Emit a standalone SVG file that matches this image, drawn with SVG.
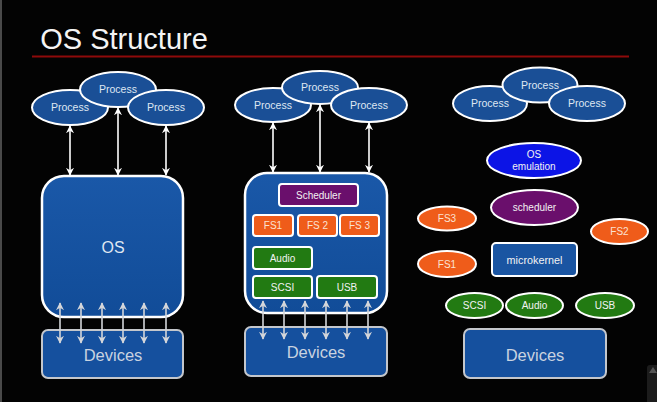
<svg xmlns="http://www.w3.org/2000/svg" width="657" height="402" viewBox="0 0 657 402">
<defs>
<linearGradient id="gBox" x1="0" y1="0" x2="0" y2="1">
<stop offset="0" stop-color="#1a58a8"/>
<stop offset="1" stop-color="#114c98"/>
</linearGradient>
<marker id="ahW" viewBox="0 0 10 10" refX="9" refY="5" markerWidth="8" markerHeight="8" markerUnits="userSpaceOnUse" orient="auto-start-reverse">
<path d="M0,0 L10,5 L0,10 L3,5 z" fill="#ffffff"/>
</marker>
<marker id="ahG" viewBox="0 0 10 10" refX="9" refY="5" markerWidth="8" markerHeight="8" markerUnits="userSpaceOnUse" orient="auto-start-reverse">
<path d="M0,0 L10,5 L0,10 L3,5 z" fill="#d4d6da"/>
</marker>
</defs>
<style>
text{font-family:"Liberation Sans",Arial,sans-serif;text-anchor:middle}
.proc{fill:#1a4f96;stroke:#ffffff;stroke-width:2}
.ptxt{fill:#dfe7f2;font-size:10.5px}
.os{fill:url(#gBox);stroke:#ffffff;stroke-width:2.5}
.dev{fill:#15509e;stroke:#c4c7cc;stroke-width:2}
.dtxt{fill:#c9d3e0;font-size:16.5px}
.purple{fill:#6a0f6c;stroke:#ffffff;stroke-width:2}
.orange{fill:#ef5c1a;stroke:#ffffff;stroke-width:2}
.green{fill:#227a12;stroke:#ffffff;stroke-width:2}
.blue{fill:#0c14e6;stroke:#ffffff;stroke-width:2}
.mk{fill:#1a55a2;stroke:#ffffff;stroke-width:2}
.stxt{fill:#f2f2f2;font-size:10px}
.ftxt{fill:#fbe2d2;font-size:10px}
.aw{stroke:#ffffff;stroke-width:1.6;fill:none;marker-start:url(#ahW);marker-end:url(#ahW)}
.ag{stroke:#d4d6da;stroke-width:1.6;fill:none;marker-start:url(#ahG);marker-end:url(#ahG)}
</style>
<rect width="657" height="402" fill="#030303"/>
<line x1="1" y1="0" x2="1" y2="402" stroke="#4a4a4a" stroke-width="2"/>
<g id="title">
<text x="124" y="49" style="fill:#f4f4f4;font-size:29px">OS Structure</text>
<line x1="32" y1="56.5" x2="629" y2="56.5" stroke="#8e0a0a" stroke-width="2"/>
</g>

<!-- Left column: monolithic -->
<g id="left-os"><rect class="os" x="42" y="176" width="141" height="141" rx="22"/><text x="113" y="253" style="fill:#dfe7f2;font-size:16px">OS</text></g>
<g id="left-devices"><rect class="dev" x="42" y="330" width="141" height="48" rx="6"/><text class="dtxt" x="113" y="361">Devices</text></g>
<g id="left-p1"><ellipse class="proc" cx="70" cy="107.5" rx="38" ry="17.5"/><text class="ptxt" x="70" y="111">Process</text></g>
<g id="left-p2"><ellipse class="proc" cx="118" cy="89.5" rx="38" ry="17.5"/><text class="ptxt" x="118" y="93">Process</text></g>
<g id="left-p3"><ellipse class="proc" cx="166" cy="107.5" rx="38" ry="17.5"/><text class="ptxt" x="166" y="111">Process</text></g>

<!-- Middle column: modular kernel -->
<g id="mid-os"><rect class="os" x="245" y="173" width="142" height="140" rx="22"/></g>
<g id="mid-devices"><rect class="dev" x="245" y="327" width="142" height="49" rx="6"/><text class="dtxt" x="316" y="358">Devices</text></g>
<g id="mid-scheduler"><rect class="purple" x="279" y="184" width="79" height="22" rx="3"/><text class="stxt" x="318.5" y="198.5">Scheduler</text></g>
<g id="mid-fs1"><rect class="orange" x="253" y="215" width="40" height="21" rx="3"/><text class="ftxt" x="273" y="229">FS1</text></g>
<g id="mid-fs2"><rect class="orange" x="298" y="215" width="39" height="21" rx="3"/><text class="ftxt" x="317.5" y="229">FS 2</text></g>
<g id="mid-fs3"><rect class="orange" x="340" y="215" width="39" height="21" rx="3"/><text class="ftxt" x="359.5" y="229">FS 3</text></g>
<g id="mid-audio"><rect class="green" x="253" y="247" width="59" height="22" rx="3"/><text class="stxt" x="282.5" y="261.5">Audio</text></g>
<g id="mid-scsi"><rect class="green" x="253" y="276" width="59" height="22" rx="3"/><text class="stxt" x="282.5" y="290.5">SCSI</text></g>
<g id="mid-usb"><rect class="green" x="317" y="276" width="60" height="22" rx="3"/><text class="stxt" x="347" y="290.5">USB</text></g>
<g id="mid-p1"><ellipse class="proc" cx="273" cy="105" rx="38" ry="17"/><text class="ptxt" x="273" y="108.5">Process</text></g>
<g id="mid-p2"><ellipse class="proc" cx="320" cy="87.5" rx="38" ry="16.5"/><text class="ptxt" x="320" y="91">Process</text></g>
<g id="mid-p3"><ellipse class="proc" cx="369" cy="105" rx="38" ry="17"/><text class="ptxt" x="369" y="108.5">Process</text></g>

<!-- Right column: microkernel -->
<g id="right-p1"><ellipse class="proc" cx="490" cy="103.5" rx="37" ry="17.5"/><text class="ptxt" x="490" y="107">Process</text></g>
<g id="right-p2"><ellipse class="proc" cx="540" cy="85" rx="37.5" ry="17.5"/><text class="ptxt" x="540" y="88.5">Process</text></g>
<g id="right-p3"><ellipse class="proc" cx="587" cy="103.5" rx="38" ry="17.5"/><text class="ptxt" x="587" y="107">Process</text></g>
<g id="right-osemu"><ellipse class="blue" cx="534" cy="160.5" rx="47" ry="17.5"/><text class="stxt" x="534" y="158">OS</text><text class="stxt" x="534" y="170">emulation</text></g>
<g id="right-scheduler"><ellipse class="purple" cx="534.5" cy="207.5" rx="43.5" ry="17.5"/><text class="stxt" x="534.5" y="211">scheduler</text></g>
<g id="right-fs3"><ellipse class="orange" cx="447" cy="218.5" rx="29" ry="12"/><text class="ftxt" x="447" y="222">FS3</text></g>
<g id="right-fs2"><ellipse class="orange" cx="619.5" cy="231.5" rx="28.5" ry="12.5"/><text class="ftxt" x="619.5" y="235">FS2</text></g>
<g id="right-fs1"><ellipse class="orange" cx="447" cy="264" rx="29" ry="13"/><text class="ftxt" x="447" y="267.5">FS1</text></g>
<g id="right-microkernel"><rect class="mk" x="492" y="243" width="85" height="33" rx="4"/><text class="stxt" x="534.5" y="263.5" style="font-size:10.8px">microkernel</text></g>
<g id="right-scsi"><ellipse class="green" cx="474.5" cy="305.5" rx="28.5" ry="12.5"/><text class="stxt" x="474.5" y="309">SCSI</text></g>
<g id="right-audio"><ellipse class="green" cx="534.5" cy="305.5" rx="28.5" ry="12.5"/><text class="stxt" x="534.5" y="309">Audio</text></g>
<g id="right-usb"><ellipse class="green" cx="605" cy="305.5" rx="29" ry="12.5"/><text class="stxt" x="605" y="309">USB</text></g>
<g id="right-devices"><rect class="dev" x="464" y="329" width="142" height="49" rx="6"/><text class="dtxt" x="535" y="361">Devices</text></g>

<g id="connectors">
<line class="aw" x1="70" y1="126" x2="70" y2="175"/>
<line class="aw" x1="118" y1="108" x2="118" y2="175"/>
<line class="aw" x1="166" y1="126" x2="166" y2="175"/>
<line class="ag" x1="60" y1="303" x2="60" y2="343"/>
<line class="ag" x1="81" y1="303" x2="81" y2="343"/>
<line class="ag" x1="102" y1="303" x2="102" y2="343"/>
<line class="ag" x1="123" y1="303" x2="123" y2="343"/>
<line class="ag" x1="144" y1="303" x2="144" y2="343"/>
<line class="ag" x1="166" y1="303" x2="166" y2="343"/>
<line class="aw" x1="273" y1="123" x2="273" y2="172"/>
<line class="aw" x1="320" y1="105" x2="320" y2="172"/>
<line class="aw" x1="369" y1="123" x2="369" y2="172"/>
<line class="ag" x1="263" y1="301" x2="263" y2="339"/>
<line class="ag" x1="284" y1="301" x2="284" y2="339"/>
<line class="ag" x1="305" y1="301" x2="305" y2="339"/>
<line class="ag" x1="326" y1="301" x2="326" y2="339"/>
<line class="ag" x1="347" y1="301" x2="347" y2="339"/>
<line class="ag" x1="368" y1="301" x2="368" y2="339"/>
</g>
<g id="scrollbar"><rect x="647" y="365" width="12" height="40" rx="3" fill="#1c1c1c"/><path d="M649,373 L653,367 L657,373 z" fill="#555"/></g>
</svg>
